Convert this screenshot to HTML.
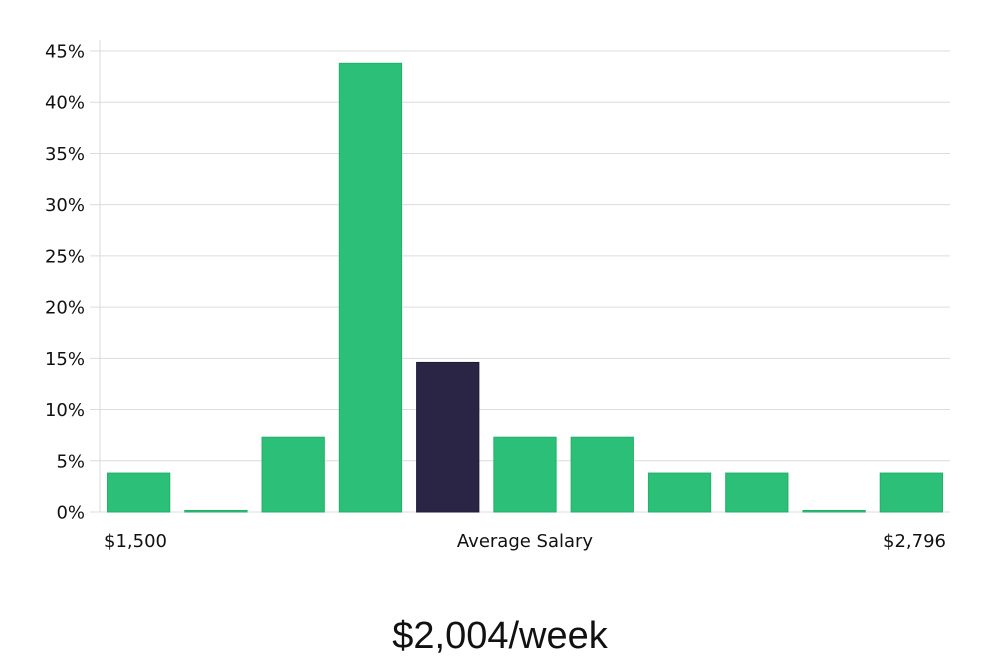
<!DOCTYPE html>
<html><head><meta charset="utf-8">
<style>
html,body{margin:0;padding:0;background:#fff;width:1000px;height:660px;overflow:hidden}
svg text{font-family:"DejaVu Sans","Liberation Sans",sans-serif}
</style></head>
<body>
<svg id="chart" width="1000" height="660" xmlns="http://www.w3.org/2000/svg">
<g id="grid"></g>
<g id="ylabels"></g>
<line x1="100" y1="40" x2="100" y2="512" stroke="#d9d9d9" stroke-width="1"/>
<g id="bars"></g>
<text x="104" y="547" font-size="18" fill="#111">$1,500</text>
<text x="525" y="547" font-size="18" fill="#111" text-anchor="middle">Average Salary</text>
<text x="946" y="547" font-size="18" fill="#111" text-anchor="end">$2,796</text>
<text x="500" y="648" font-size="38" fill="#111" text-anchor="middle" style="font-family:'Liberation Sans',sans-serif;font-weight:300">$2,004/week</text>
</svg>
<script>
const categories = ["b1","b2","b3","b4","b5","b6","b7","b8","b9","b10","b11"];
const values = [3.8, 0, 7.3, 43.8, 14.6, 7.3, 7.3, 3.8, 3.8, 0, 3.8];
const highlightIndex = 4;
const yTicks = [0,5,10,15,20,25,30,35,40,45];
const yTickLabels = ["0%","5%","10%","15%","20%","25%","30%","35%","40%","45%"];

const NS = "http://www.w3.org/2000/svg";
const x0 = 100, x1 = 950, y0 = 512, yTop = 51, yMax = 45;
const yScale = v => y0 - (v / yMax) * (y0 - yTop);
const slot = (x1 - x0) / categories.length;
const xScale = i => x0 + i * slot;

const grid = document.getElementById("grid");
const yl = document.getElementById("ylabels");
yTicks.forEach((t, i) => {
  const y = yScale(t);
  const l = document.createElementNS(NS, "line");
  
  
  l.setAttribute("x1", 90); l.setAttribute("x2", x1);
  l.setAttribute("y1", y); l.setAttribute("y2", y);
  l.setAttribute("stroke", "#dcdcdc"); l.setAttribute("stroke-width", "1");
  grid.appendChild(l);
  const tx = document.createElementNS(NS, "text");
  
  
  tx.setAttribute("x", 85); tx.setAttribute("y", y + 6.5);
  tx.setAttribute("text-anchor", "end"); tx.setAttribute("font-size", "18"); tx.setAttribute("fill", "#111");
  tx.textContent = yTickLabels[i];
  yl.appendChild(tx);
});

const bars = document.getElementById("bars");
values.forEach((v, i) => {
  const r = document.createElementNS(NS, "rect");
  
  
  const top = Math.min(yScale(v), y0 - 1.5);
  r.setAttribute("x", xScale(i) + 7.5);
  r.setAttribute("width", slot - 15);
  r.setAttribute("y", top);
  r.setAttribute("height", y0 - top);
  const hl = i === highlightIndex;
  r.setAttribute("fill", hl ? "#2a2545" : "#2bbf77");
  r.setAttribute("stroke", hl ? "#1f1a3a" : "#22b06a");
  r.setAttribute("stroke-width", "1");
  bars.appendChild(r);
});
</script>
</body></html>
